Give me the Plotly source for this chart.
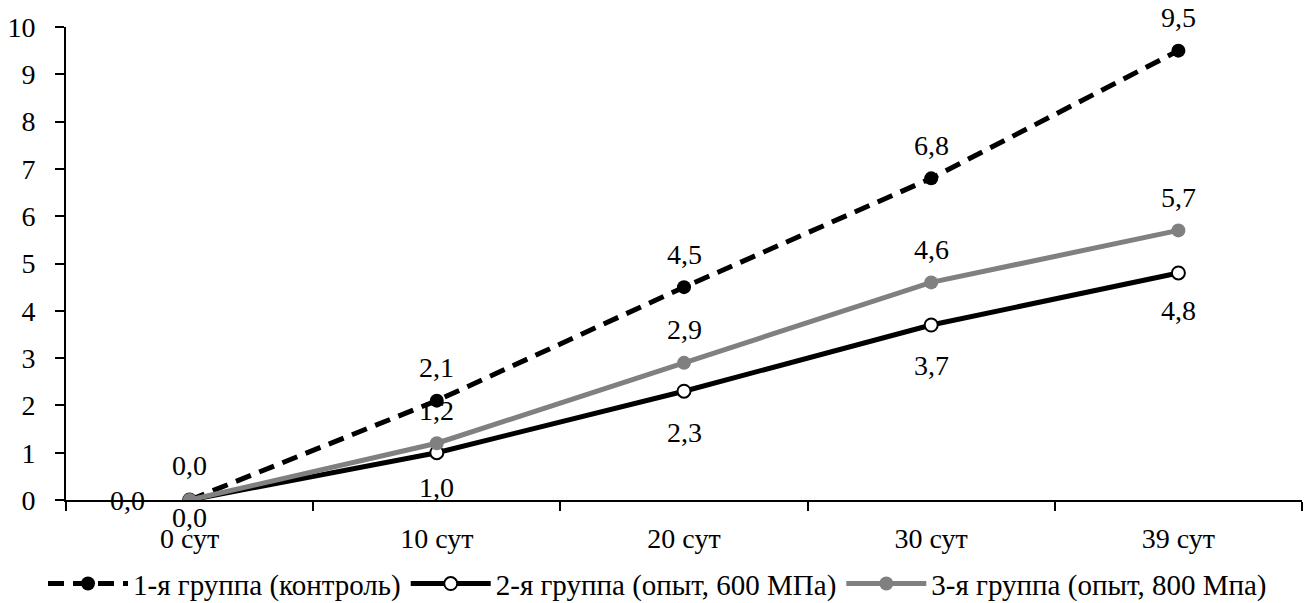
import plotly.graph_objects as go

# Categories (days) and values for each group
days = ["0 сут", "10 сут", "20 сут", "30 сут", "39 сут"]
group1 = [0.0, 2.1, 4.5, 6.8, 9.5]
group2 = [0.0, 1.0, 2.3, 3.7, 4.8]
group3 = [0.0, 1.2, 2.9, 4.6, 5.7]
names = ["1-я группа (контроль)", "2-я группа (опыт, 600 МПа)", "3-я группа (опыт, 800 Мпа)"]
y_ticks = list(range(0, 11))

FONT = "Liberation Serif"
FS = 28

fig = go.Figure()

fig.add_trace(go.Scatter(
    x=days, y=group1, name=names[0], mode="lines+markers",
    line=dict(color="black", width=5, dash="16px,9px"),
    marker=dict(color="black", size=14, symbol="circle"),
))
fig.add_trace(go.Scatter(
    x=days, y=group2, name=names[1], mode="lines+markers",
    line=dict(color="black", width=5),
    marker=dict(color="white", size=13, symbol="circle", line=dict(color="black", width=2)),
))
fig.add_trace(go.Scatter(
    x=days, y=group3, name=names[2], mode="lines+markers",
    line=dict(color="#808080", width=5),
    marker=dict(color="#808080", size=14, symbol="circle"),
))


def fmt(v):
    return f"{v:.1f}".replace(".", ",")


# data labels: (series, x offset per point, downward offset per point)
label_specs = [
    (group1, [-62, 0, 0, 0, 0], [0, -33, -33, -33, -33]),
    (group2, [0, 0, 0, 0, 0], [17, 35, 41, 41, 38]),
    (group3, [0, 0, 0, 0, 0], [-35, -33, -33, -33, -33]),
]
for values, xs, ys in label_specs:
    for i, v in enumerate(values):
        fig.add_annotation(
            x=days[i], y=v, xref="x", yref="y", text=fmt(v), showarrow=False,
            xshift=xs[i], yshift=-ys[i], font=dict(family=FONT, size=FS, color="black"),
        )

fig.update_layout(
    width=1315, height=603,
    margin=dict(l=66, r=13, t=27, b=103, autoexpand=False),
    paper_bgcolor="white", plot_bgcolor="white",
    font=dict(family=FONT, size=FS, color="black"),
    showlegend=True,
    legend=dict(orientation="h", xref="container", yref="container",
                x=0.5, xanchor="center", y=0.032, yanchor="middle",
                font=dict(family=FONT, size=29, color="black"),
                itemwidth=80, tracegroupgap=0),
)
fig.update_xaxes(
    type="category", categoryorder="array", categoryarray=days,
    range=[-0.5, 4.5], showline=True, linecolor="black", linewidth=2,
    ticks="outside", tickson="boundaries", ticklen=9, tickwidth=1.5, tickcolor="black",
    showgrid=False, zeroline=False, ticklabelstandoff=12, automargin=False,
    tickfont=dict(family=FONT, size=FS),
)
fig.update_yaxes(
    range=[0, 10], tickvals=y_ticks, showline=True, linecolor="black", linewidth=2,
    ticks="outside", ticklen=9, tickwidth=1.5, tickcolor="black",
    showgrid=False, zeroline=False, ticklabelstandoff=14, automargin=False,
    tickfont=dict(family=FONT, size=FS),
)

fig.write_html("out.html")
